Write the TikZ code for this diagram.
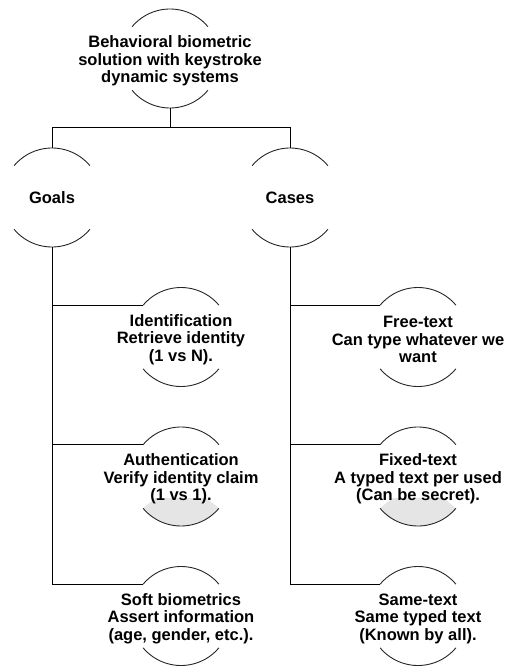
\documentclass[tikz,border=0pt]{standalone}
\usepackage{fontspec}
\setmainfont{Liberation Sans}
\usepackage{tikz}
\usetikzlibrary{positioning}

\begin{document}
\begin{tikzpicture}[x = 1pt, y = -1pt,
  bubble/.style = {shape = circle, minimum size = 99pt, inner sep = 0pt, outer sep = 0pt},
  caption/.style = {font = \bfseries\fontsize{16.5}{17.5}\selectfont, align = center, inner sep = 0pt},
  lines/.style = {caption, yshift = -2.5pt},
  shaded/.style = {path picture = {
    \clip (path picture bounding box.center) ++(-60,22) rectangle ++(120,60);
    \fill[gray!20] (path picture bounding box.center) -- +(220:60pt) -- +(270:80pt) -- +(320:60pt) -- cycle;}},
  link/.style = {line width = 0.9pt}]
\useasboundingbox (0,0) rectangle (507,666);

\node[bubble, label = {[lines]center:{Behavioral biometric\\solution with keystroke\\dynamic systems}}] (behav) at (170,58.5) {};
\node[bubble, label = {[caption]center:{Goals}}] (goals) at (52,197.5) {};
\node[bubble, label = {[caption]center:{Cases}}] (cases) at (290,197.5) {};

\node[bubble, label = {[lines]center:{Identification\\Retrieve identity\\(1 vs N).}}] (ident) at (181,337) {};
\node[bubble, shaded, label = {[lines]center:{Authentication\\Verify identity claim\\(1 vs 1).}}] (authen) at (181,476.5) {};
\node[bubble, label = {[lines]center:{Soft biometrics\\Assert information\\(age, gender, etc.).}}] (soft) at (181,616) {};

\node[bubble, label = {[lines]center:{Free-text\\Can type whatever we\\want}}] (free) at (418,337) {};
\node[bubble, shaded, label = {[lines]center:{Fixed-text\\A typed text per used\\(Can be secret).}}] (fixed) at (418,476.5) {};
\node[bubble, label = {[lines]center:{Same-text\\Same typed text\\(Known by all).}}] (same) at (418,616) {};

% upper and lower arcs of every bubble
\foreach \n in {behav,goals,cases,ident,authen,soft,free,fixed,same} {
  \draw[link, black!85] (\n.40) arc[start angle = 40, end angle = 140, radius = 49.5pt];
  \draw[link, black!85] (\n.220) arc[start angle = 220, end angle = 320, radius = 49.5pt];
}

\draw[link] (behav.south) -- ++(0,19) -| (goals.north);
\draw[link] (behav.south) -- ++(0,19) -| (cases.north);
\foreach \p/\c in {goals/ident, goals/authen, goals/soft, cases/free, cases/fixed, cases/same}
  \draw[link] (\p.south) |- (\c.140);
\end{tikzpicture}
\end{document}
